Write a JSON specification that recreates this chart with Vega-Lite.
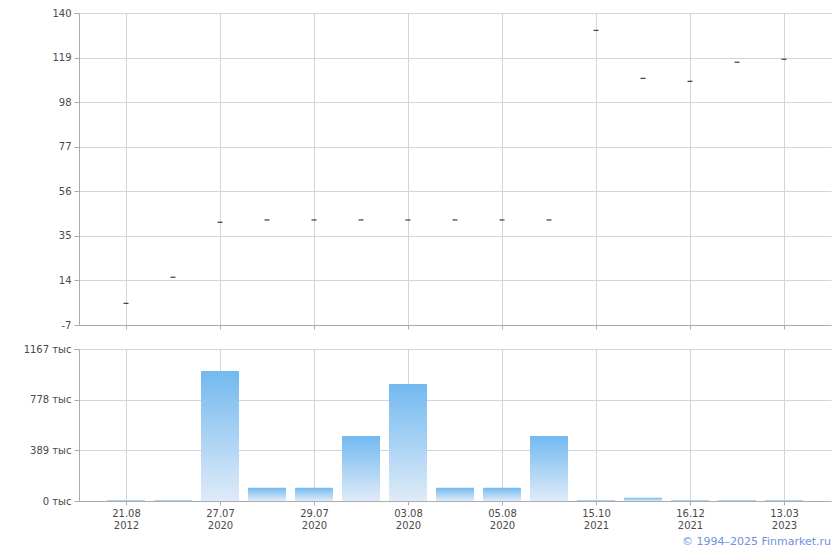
{
  "$schema": "https://vega.github.io/schema/vega-lite/v6.json",
  "background": "white",
  "padding": {"left": 23, "top": 8, "right": 9, "bottom": 2},
  "config": {
    "font": "DejaVu Sans",
    "view": {"stroke": null},
    "axis": {
      "labelFont": "DejaVu Sans",
      "labelFontSize": 10,
      "labelColor": "#4a4a4a",
      "gridColor": "#cfd6dc",
      "domainColor": "#a9adb2",
      "tickColor": "#a9adb2",
      "tickSize": 5,
      "title": null
    }
  },
  "title": {
    "text": "© 1994–2025 Finmarket.ru",
    "orient": "bottom",
    "anchor": "end",
    "color": "#6d92dc",
    "fontSize": 11,
    "font": "DejaVu Sans",
    "fontWeight": "normal",
    "offset": 6
  },
  "datasets": {
    "d": [
      {"d": "21.08 2012", "price": 3.2, "vol": 8},
      {"d": "22.08 2012", "price": 15.5, "vol": 8},
      {"d": "27.07 2020", "price": 41.4, "vol": 998},
      {"d": "28.07 2020", "price": 42.5, "vol": 102},
      {"d": "29.07 2020", "price": 42.5, "vol": 102},
      {"d": "30.07 2020", "price": 42.5, "vol": 500},
      {"d": "03.08 2020", "price": 42.5, "vol": 898},
      {"d": "04.08 2020", "price": 42.5, "vol": 102},
      {"d": "05.08 2020", "price": 42.5, "vol": 102},
      {"d": "06.08 2020", "price": 42.5, "vol": 500},
      {"d": "15.10 2021", "price": 131.8, "vol": 8},
      {"d": "17.11 2021", "price": 109.2, "vol": 25},
      {"d": "16.12 2021", "price": 107.8, "vol": 8},
      {"d": "14.06 2022", "price": 116.8, "vol": 8},
      {"d": "13.03 2023", "price": 118.2, "vol": 8}
    ]
  },
  "spacing": 14,
  "vconcat": [
    {
      "width": 752,
      "height": 312,
      "data": {"name": "d"},
      "mark": {"type": "tick", "color": "black", "size": 5, "thickness": 1.3},
      "encoding": {
        "x": {
          "field": "d", "type": "ordinal", "sort": null,
          "scale": {"type": "point", "padding": 1},
          "axis": {
            "values": ["21.08 2012", "27.07 2020", "29.07 2020", "03.08 2020", "05.08 2020", "15.10 2021", "16.12 2021", "13.03 2023"],
            "labels": false, "grid": true, "tickSize": 4
          }
        },
        "y": {
          "field": "price", "type": "quantitative",
          "scale": {"domain": [-7, 140], "nice": false, "zero": false},
          "axis": {"values": [-7, 14, 35, 56, 77, 98, 119, 140], "labelExpr": "'' + datum.value", "grid": true, "labelPadding": 3}
        }
      }
    },
    {
      "width": 752,
      "height": 152,
      "data": {"name": "d"},
      "mark": {
        "type": "bar",
        "width": 38,
        "color": {
          "gradient": "linear", "x1": 0, "y1": 0, "x2": 0, "y2": 1,
          "stops": [
            {"offset": 0, "color": "#72b9f0"},
            {"offset": 1, "color": "#dfebf8"}
          ]
        }
      },
      "encoding": {
        "x": {
          "field": "d", "type": "ordinal", "sort": null,
          "scale": {"type": "point", "padding": 1},
          "axis": {
            "values": ["21.08 2012", "27.07 2020", "29.07 2020", "03.08 2020", "05.08 2020", "15.10 2021", "16.12 2021", "13.03 2023"],
            "labelExpr": "split(datum.value, ' ')",
            "labelAngle": 0,
            "grid": true, "tickSize": 4, "labelPadding": 3, "labelLineHeight": 12
          }
        },
        "y": {
          "field": "vol", "type": "quantitative",
          "scale": {"domain": [0, 1167], "nice": false},
          "axis": {"values": [0, 389, 778, 1167], "labelExpr": "datum.value + ' тыс'", "grid": true, "labelPadding": 3}
        }
      }
    }
  ]
}
